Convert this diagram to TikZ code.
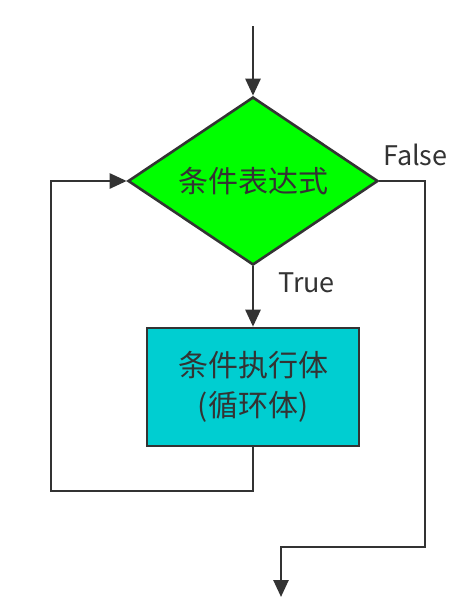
\documentclass[tikz,border=0pt]{standalone}
\usepackage{fontspec}
\setmainfont{Noto Sans CJK SC}
\usepackage{tikz}
\usetikzlibrary{shapes.geometric,arrows.meta}

\definecolor{linegray}{HTML}{333333}
\definecolor{condgreen}{HTML}{00FF00}
\definecolor{bodycyan}{HTML}{00CED1}

\tikzset{
	flow/.style={draw=linegray,line width=2.6pt,-{Triangle[length=17pt,width=15pt]}},
	lbl/.style={text=linegray,font=\fontsize{27}{32}\selectfont,inner sep=0pt}
}

\begin{document}
\begin{tikzpicture}[x=1pt,y=-1pt]
	\useasboundingbox (0,0) rectangle (476,608);
	\node[shape=diamond,draw=linegray,line width=2.6pt,fill=condgreen,inner sep=0pt,aspect=1.5,
		minimum width=250pt,minimum height=168pt,text=linegray,font=\fontsize{30}{36}\selectfont] (cond) at (253,181) {条件表达式};
	\node[shape=rectangle,draw=linegray,line width=2.6pt,fill=bodycyan,align=center,
		minimum width=212pt,minimum height=118pt,text=linegray,font=\fontsize{30}{40}\selectfont] (body) at (253,387) {条件执行体\\(循环体)};
	\coordinate (start) at (253,26);
	\coordinate (exit) at (281,597);

	\draw[flow] (start) -- (cond.north);
	\draw[flow] (cond.south) -- node[lbl,pos=0.27,anchor=west,xshift=24pt]{True} (body.north);
	\draw[flow] (body.south) |- (51,491) |- (cond.west);
	\draw[flow] (cond.east) -| (425,547) -| (exit);
	\node[lbl,anchor=south west] (false) at (383,166) {False};
\end{tikzpicture}
\end{document}
